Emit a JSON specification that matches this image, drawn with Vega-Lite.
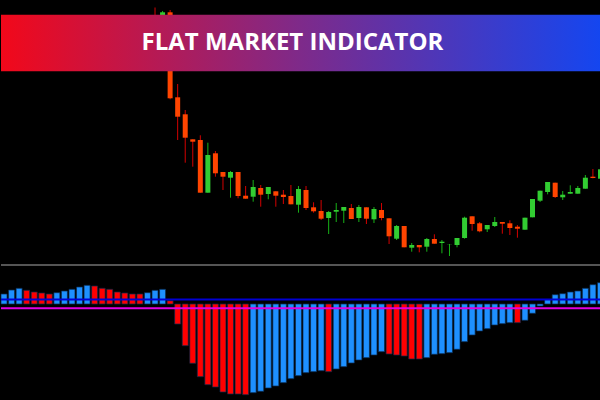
{
  "$schema": "https://vega.github.io/schema/vega-lite/v6.json",
  "background": "#000000",
  "padding": 0,
  "spacing": 0,
  "bounds": "flush",
  "config": {"view": {"stroke": null}},
  "datasets": {
    "candles": [
      {"i":20,"o":245,"h":257.5,"l":220,"c":225},
      {"i":21,"o":240,"h":254,"l":237,"c":252.7},
      {"i":22,"o":252.7,"h":255,"l":165.7,"c":166.7},
      {"i":23,"o":167.7,"h":181,"l":125,"c":148.3},
      {"i":24,"o":150.7,"h":155,"l":102.3,"c":127.3},
      {"i":25,"o":125.7,"h":125.7,"l":98.3,"c":123.3},
      {"i":26,"o":125,"h":129.7,"l":72.3,"c":72.3},
      {"i":27,"o":72.3,"h":122.3,"l":72.3,"c":110},
      {"i":28,"o":111.7,"h":114,"l":88.3,"c":91.7},
      {"i":29,"o":93,"h":93,"l":75,"c":88.3},
      {"i":30,"o":87.3,"h":94,"l":67.3,"c":93},
      {"i":31,"o":93,"h":93,"l":66.7,"c":69},
      {"i":32,"o":69.3,"h":79,"l":66.3,"c":66.3},
      {"i":33,"o":68.3,"h":85,"l":63.3,"c":78},
      {"i":34,"o":77,"h":80,"l":58.3,"c":70.3},
      {"i":35,"o":71,"h":78,"l":65.7,"c":78},
      {"i":36,"o":73.7,"h":73.7,"l":58.3,"c":69.3},
      {"i":37,"o":70.3,"h":75,"l":61,"c":68},
      {"i":38,"o":69,"h":80,"l":60.7,"c":60.7},
      {"i":39,"o":60.3,"h":79,"l":52.3,"c":76},
      {"i":40,"o":75,"h":79,"l":55,"c":57},
      {"i":41,"o":57.7,"h":62.7,"l":52.3,"c":53.7},
      {"i":42,"o":54,"h":65,"l":45,"c":46.3},
      {"i":43,"o":47,"h":54,"l":31,"c":53},
      {"i":44,"o":53.3,"h":62,"l":43,"c":55},
      {"i":45,"o":54.3,"h":58,"l":42,"c":58},
      {"i":46,"o":57,"h":61,"l":46,"c":46},
      {"i":47,"o":47,"h":60,"l":43,"c":58},
      {"i":48,"o":57.7,"h":57.7,"l":41,"c":46.3},
      {"i":49,"o":45.7,"h":58,"l":42,"c":56},
      {"i":50,"o":55,"h":62,"l":44.7,"c":47},
      {"i":51,"o":46.7,"h":46.7,"l":21,"c":28.7},
      {"i":52,"o":26.3,"h":40,"l":25,"c":39},
      {"i":53,"o":39,"h":39,"l":17.7,"c":17.7},
      {"i":54,"o":17.3,"h":22,"l":13.3,"c":20},
      {"i":55,"o":20,"h":20,"l":12.7,"c":17.7},
      {"i":56,"o":18.3,"h":27,"l":13.3,"c":26},
      {"i":57,"o":26,"h":30.7,"l":21.3,"c":21.3},
      {"i":58,"o":22,"h":25,"l":11.7,"c":23.3},
      {"i":59,"o":20.8,"h":21,"l":9,"c":21},
      {"i":60,"o":20,"h":27,"l":17.7,"c":27},
      {"i":61,"o":27,"h":48.3,"l":26.3,"c":47.3},
      {"i":62,"o":48.7,"h":48.7,"l":34.3,"c":41},
      {"i":63,"o":41.7,"h":43,"l":32.7,"c":33.7},
      {"i":64,"o":35.7,"h":40,"l":33,"c":40},
      {"i":65,"o":39,"h":48,"l":38,"c":43},
      {"i":66,"o":43,"h":43,"l":31.3,"c":41.3},
      {"i":67,"o":41.7,"h":44.7,"l":30,"c":37},
      {"i":68,"o":38.3,"h":40,"l":27.3,"c":36.3},
      {"i":69,"o":35.3,"h":47.3,"l":35.3,"c":47.3},
      {"i":70,"o":47.7,"h":66,"l":47.7,"c":66},
      {"i":71,"o":64.3,"h":74.3,"l":63,"c":74.3},
      {"i":72,"o":73,"h":83,"l":70.7,"c":83},
      {"i":73,"o":82.3,"h":82.3,"l":67,"c":68},
      {"i":74,"o":67.7,"h":74,"l":65,"c":70.3},
      {"i":75,"o":71.3,"h":79.7,"l":71.3,"c":73},
      {"i":76,"o":71.3,"h":79,"l":71.3,"c":77},
      {"i":77,"o":76.3,"h":90,"l":76.3,"c":87.3},
      {"i":78,"o":88.3,"h":96,"l":86.7,"c":87},
      {"i":79,"o":86.3,"h":97.3,"l":86.3,"c":95.7}
    ],
    "hist": [
      {"i":0,"v":10,"state":"up"},{"i":1,"v":14,"state":"up"},{"i":2,"v":15.7,"state":"up"},
      {"i":3,"v":13.7,"state":"down"},{"i":4,"v":12,"state":"down"},{"i":5,"v":11,"state":"down"},{"i":6,"v":10,"state":"down"},
      {"i":7,"v":11.3,"state":"up"},{"i":8,"v":13,"state":"up"},{"i":9,"v":14.7,"state":"up"},{"i":10,"v":17,"state":"up"},{"i":11,"v":18.7,"state":"up"},
      {"i":12,"v":18,"state":"down"},{"i":13,"v":15.7,"state":"down"},{"i":14,"v":14.7,"state":"down"},{"i":15,"v":12,"state":"down"},{"i":16,"v":11,"state":"down"},{"i":17,"v":10,"state":"down"},{"i":18,"v":10,"state":"down"},
      {"i":19,"v":11.3,"state":"up"},{"i":20,"v":13.7,"state":"up"},{"i":21,"v":14.7,"state":"up"},
      {"i":22,"v":3.3,"state":"down"},{"i":23,"v":-20,"state":"down"},{"i":24,"v":-41.7,"state":"down"},{"i":25,"v":-59.3,"state":"down"},{"i":26,"v":-72.7,"state":"down"},{"i":27,"v":-80.7,"state":"down"},{"i":28,"v":-83,"state":"down"},{"i":29,"v":-88,"state":"down"},{"i":30,"v":-90,"state":"down"},{"i":31,"v":-90,"state":"down"},{"i":32,"v":-90.7,"state":"down"},
      {"i":33,"v":-88.7,"state":"up"},{"i":34,"v":-87.3,"state":"up"},{"i":35,"v":-84,"state":"up"},{"i":36,"v":-82,"state":"up"},{"i":37,"v":-78.7,"state":"up"},{"i":38,"v":-74.7,"state":"up"},{"i":39,"v":-71.7,"state":"up"},
      {"i":40,"v":-68.7,"state":"up"},{"i":41,"v":-67.7,"state":"up"},{"i":42,"v":-66.7,"state":"up"},{"i":43,"v":-67.7,"state":"down"},
      {"i":44,"v":-65,"state":"up"},{"i":45,"v":-62.7,"state":"up"},{"i":46,"v":-59,"state":"up"},{"i":47,"v":-56,"state":"up"},{"i":48,"v":-53.7,"state":"up"},{"i":49,"v":-51,"state":"up"},{"i":50,"v":-47.7,"state":"up"},
      {"i":51,"v":-50,"state":"down"},{"i":52,"v":-51,"state":"down"},{"i":53,"v":-52,"state":"down"},{"i":54,"v":-55,"state":"down"},{"i":55,"v":-55,"state":"down"},
      {"i":56,"v":-53.7,"state":"up"},{"i":57,"v":-50.3,"state":"up"},{"i":58,"v":-49.7,"state":"up"},{"i":59,"v":-48.7,"state":"up"},{"i":60,"v":-45.3,"state":"up"},{"i":61,"v":-37.7,"state":"up"},{"i":62,"v":-31,"state":"up"},{"i":63,"v":-27,"state":"up"},{"i":64,"v":-24.7,"state":"up"},{"i":65,"v":-21,"state":"up"},{"i":66,"v":-19.7,"state":"up"},{"i":67,"v":-18.7,"state":"up"},
      {"i":68,"v":-18.7,"state":"down"},
      {"i":69,"v":-16.3,"state":"up"},{"i":70,"v":-9.3,"state":"up"},{"i":71,"v":-2,"state":"up"},{"i":72,"v":4.5,"state":"up"},{"i":73,"v":9.3,"state":"up"},{"i":74,"v":10.3,"state":"up"},{"i":75,"v":12,"state":"up"},{"i":76,"v":13,"state":"up"},{"i":77,"v":15.7,"state":"up"},{"i":78,"v":19.3,"state":"up"},{"i":79,"v":21.3,"state":"up"}
    ],
    "banner": [{"title": "FLAT MARKET INDICATOR", "x0": -0.4, "x1": 79.07, "top": 250.3, "bottom": 193.7, "xc": 38.2, "base": 215}],
    "levels": [{"name": "separator", "v": 39}, {"name": "upper", "v": 4.5}, {"name": "lower", "v": -4.3}]
  },
  "vconcat": [
    {
      "width": 600,
      "height": 265,
      "layer": [
        {
          "data": {"name": "candles"},
          "mark": {"type": "rule", "strokeWidth": 1},
          "encoding": {
            "x": {"field": "i", "type": "quantitative", "scale": {"domain": [-0.4, 79.07], "nice": false, "zero": false, "padding": 0}, "axis": null},
            "y": {"field": "h", "type": "quantitative", "scale": {"domain": [0, 265], "nice": false, "zero": false, "padding": 0}, "axis": null},
            "y2": {"field": "l"},
            "color": {"condition": {"test": "datum.c >= datum.o", "value": "#17b217"}, "value": "#d40000"}
          }
        },
        {
          "data": {"name": "candles"},
          "mark": {"type": "bar", "width": 5},
          "encoding": {
            "x": {"field": "i", "type": "quantitative", "scale": {"domain": [-0.4, 79.07], "nice": false, "zero": false, "padding": 0}, "axis": null},
            "y": {"field": "o", "type": "quantitative", "scale": {"domain": [0, 265], "nice": false, "zero": false, "padding": 0}, "axis": null},
            "y2": {"field": "c"},
            "color": {"condition": {"test": "datum.c >= datum.o", "value": "#32cd32"}, "value": "#ff4500"}
          }
        },
        {
          "data": {"name": "banner"},
          "mark": {"type": "rect", "color": {"gradient": "linear", "x1": 0, "x2": 1, "y1": 0, "y2": 0, "stops": [{"offset": 0, "color": "#f2081a"}, {"offset": 0.5, "color": "#7e2a8a"}, {"offset": 1, "color": "#1446f0"}]}},
          "encoding": {
            "x": {"field": "x0", "type": "quantitative"},
            "x2": {"field": "x1"},
            "y": {"field": "top", "type": "quantitative"},
            "y2": {"field": "bottom"}
          }
        },
        {
          "data": {"name": "banner"},
          "mark": {"type": "text", "color": "#ffffff", "font": "Open Sans", "fontWeight": "bold", "fontSize": 24, "align": "center", "baseline": "alphabetic"},
          "encoding": {
            "text": {"field": "title"},
            "x": {"field": "xc", "type": "quantitative"},
            "y": {"field": "base", "type": "quantitative"}
          }
        }
      ]
    },
    {
      "width": 600,
      "height": 135,
      "layer": [
        {
          "data": {"name": "hist"},
          "mark": {"type": "bar", "width": 6, "stroke": "#0c2a4c", "strokeWidth": 1, "strokeOpacity": 0.7},
          "encoding": {
            "x": {"field": "i", "type": "quantitative", "scale": {"domain": [-0.4, 79.07], "nice": false, "zero": false, "padding": 0}, "axis": null},
            "y": {"field": "v", "type": "quantitative", "scale": {"domain": [-96, 39], "nice": false, "zero": false, "padding": 0}, "axis": null},
            "y2": {"datum": 0},
            "color": {"field": "state", "type": "nominal", "scale": {"domain": ["up", "down"], "range": ["#1e90ff", "#ff0000"]}, "legend": null}
          }
        },
        {
          "data": {"name": "levels"},
          "mark": {"type": "rule", "strokeWidth": 2},
          "encoding": {
            "y": {"field": "v", "type": "quantitative"},
            "color": {"field": "name", "type": "nominal", "scale": {"domain": ["separator", "upper", "lower"], "range": ["#555555", "#0000d2", "#e000e0"]}, "legend": null}
          }
        }
      ],
      "resolve": {"scale": {"color": "independent"}}
    }
  ]
}
